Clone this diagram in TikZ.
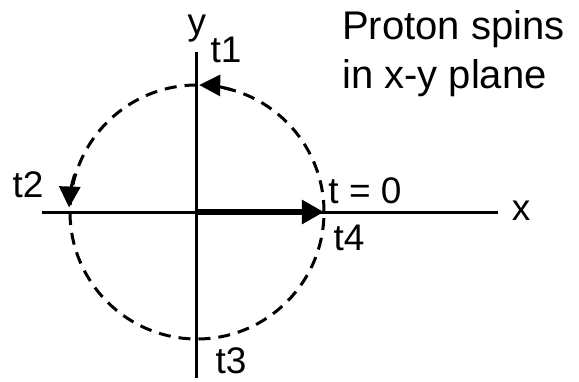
\documentclass[tikz,border=0pt]{standalone}
\usepackage{fontspec}
\setmainfont{Liberation Sans}
\usetikzlibrary{arrows.meta}

\begin{document}
\begin{tikzpicture}[
    x=1pt, y=1pt,
    font=\fontsize{37}{44}\selectfont,
    axis/.style={draw=black, line width=3pt},
    orbit/.style={draw=black, line width=3pt, dash pattern=on 12pt off 8pt},
    turn/.style={draw=black, line width=3pt, -{Triangle[length=21pt,width=21pt]}},
    spin/.style={draw=black, line width=6pt, -{Triangle[length=22pt,width=23pt]}},
    lbl/.style={anchor=base, inner sep=0pt},
]
\useasboundingbox (-197,-169) rectangle (382,212);

% ---------------- Axes ----------------
\coordinate (O) at (0,0);
\coordinate (xl) at (-155,0);
\coordinate (xr) at (301,0);
\coordinate (yt) at (0,160);
\coordinate (yb) at (0,-166);

\draw[axis] (xl) -- (xr);
\draw[axis] (yb) -- (yt);

\node[lbl] (xlab) at (324,-8) {x};
\node[lbl] (ylab) at (0,178) {y};

% ---------------- Precession circle ----------------
\draw[orbit] (O) circle[radius=127];
\draw[turn] ([shift={(74:127)}]O) arc[start angle=74, end angle=89, radius=127];
\draw[turn] ([shift={(163:128)}]O) arc[start angle=163, end angle=178, radius=128];

% spin vector at t = 0
\coordinate (p0) at (0:127);
\draw[spin] (O) -- (p0);

% ---------------- Time labels ----------------
\node[lbl] (t0) at (168,9) {t = 0};
\node[lbl] (t1) at (29,150) {t1};
\node[lbl] (t2) at (-169,15) {t2};
\node[lbl] (t3) at (34,-161) {t3};
\node[lbl] (t4) at (152,-38) {t4};

\node[anchor=base west, align=left, inner sep=0pt,
      font=\fontsize{40}{49}\selectfont] (title) at (145,124)
  {Proton spins\\in x-y plane};

\end{tikzpicture}
\end{document}
